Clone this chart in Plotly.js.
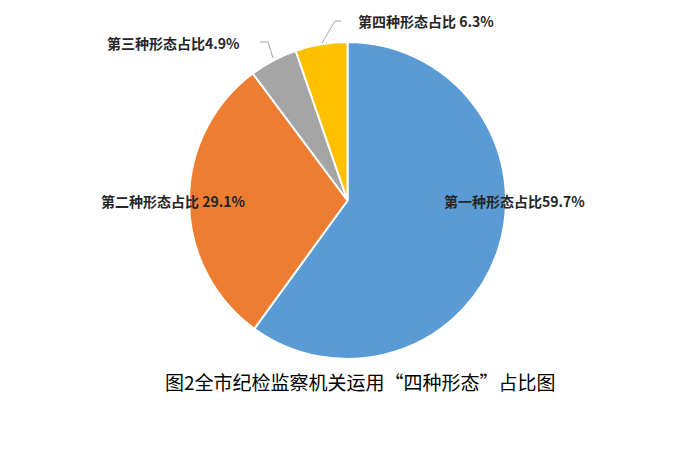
<!DOCTYPE html>
<html>
<head>
<meta charset="utf-8">
<script src="https://cdn.plot.ly/plotly-3.0.1.min.js"></script>
<style>html,body{margin:0;padding:0;background:#fff;}#chart{width:684px;height:470px;}</style>
</head>
<body>
<div id="chart"></div>
<script>
const categories = ['第一种形态', '第二种形态', '第三种形态', '第四种形态'];
// slice sizes as drawn in the picture
const values = [60.0, 29.8, 4.9, 5.3];
const labelTexts = ['第一种形态占比59.7%', '第二种形态占比 29.1%', '第三种形态占比4.9%', '第四种形态占比 6.3%'];
const colors = ['#5B9BD5', '#ED7D31', '#A5A5A5', '#FFC000'];
const chartTitle = '图2全市纪检监察机关运用“四种形态”占比图';

const W = 684, H = 470;
const px = x => x / W, py = y => 1 - y / H;
const labelFont = {family: '"Noto Sans CJK SC", sans-serif', size: 14, color: '#262626', weight: 'bold'};

// label anchor positions (paper px)
const labelPos = [[514, 201], [173, 201], [173, 43], [426, 21]];

const annotations = labelTexts.map((t, i) => ({
  text: t, xref: 'paper', yref: 'paper', x: px(labelPos[i][0]), y: py(labelPos[i][1]),
  xanchor: 'center', yanchor: 'middle', showarrow: false, font: labelFont
}));
annotations.push({
  text: chartTitle, xref: 'paper', yref: 'paper', x: px(360), y: py(381),
  xanchor: 'center', yanchor: 'middle', showarrow: false,
  font: {family: '"Noto Sans CJK SC", serif', size: 19, color: '#000'}
});

const lineStyle = {color: '#A6A6A6', width: 1};
const shapes = [
  {type: 'path', xref: 'paper', yref: 'paper', line: lineStyle,
   path: `M ${px(260)} ${py(42)} L ${px(268)} ${py(42)} L ${px(273)} ${py(58)}`},
  {type: 'path', xref: 'paper', yref: 'paper', line: lineStyle,
   path: `M ${px(341)} ${py(21)} L ${px(335)} ${py(21)} L ${px(322)} ${py(43)}`}
];

const data = [{
  type: 'pie', labels: categories, values: values, sort: false, direction: 'clockwise', rotation: 0,
  marker: {colors: colors, line: {color: '#FFFFFF', width: 2}},
  textinfo: 'none', hoverinfo: 'label+percent',
  domain: {x: [px(189), px(506)], y: [py(359), py(42)]}
}];

const layout = {
  width: W, height: H, margin: {l: 0, r: 0, t: 0, b: 0},
  paper_bgcolor: '#fff', showlegend: false,
  annotations: annotations, shapes: shapes
};
Plotly.newPlot('chart', data, layout, {displayModeBar: false, staticPlot: true});
</script>
</body>
</html>
